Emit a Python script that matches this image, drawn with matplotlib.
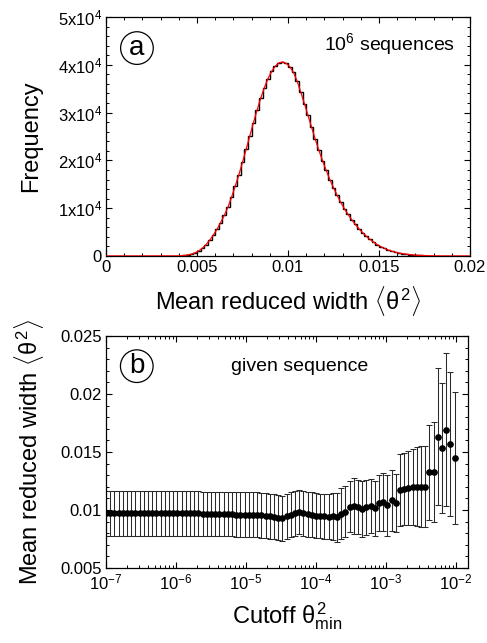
import numpy as np
import matplotlib
matplotlib.use("Agg")
import matplotlib.pyplot as plt
from matplotlib.ticker import MultipleLocator, LogLocator, NullFormatter

plt.rcParams['font.family'] = ['Liberation Sans', 'DejaVu Sans']
plt.rcParams['mathtext.fontset'] = 'custom'
plt.rcParams['mathtext.rm'] = 'Liberation Sans'
plt.rcParams['mathtext.it'] = 'Liberation Sans'
plt.rcParams['mathtext.bf'] = 'Liberation Sans:bold'

# ---------------- Panel (a): histogram of mean reduced width ----------------
hist_start = 0.0038
bin_width = 0.0002
hist_counts = [20, 50, 110, 220, 400, 680, 1080, 1650, 2400, 3300,
               4400, 5600, 7000, 8500, 10200, 12300, 14600, 17000, 19600, 22300,
               25100, 27900, 30500, 33000, 35200, 37100, 38600, 39700, 40400, 40600,
               40300, 39600, 38400, 36600, 34300, 31900, 29400, 26900, 24400, 22100,
               19900, 17900, 16000, 14300, 12700, 11200, 9900, 8700, 7600, 6600,
               5700, 4900, 4150, 3500, 2900, 2400, 1950, 1580, 1270, 1010,
               800, 630, 490, 380, 290, 220, 165, 120, 90, 65,
               45, 30, 20, 12, 7, 4]
hist_xlim = (0.0, 0.02)
hist_xticks = [0, 0.005, 0.01, 0.015, 0.02]
hist_xticklabels = ['0', '0.005', '0.01', '0.015', '0.02']
hist_yticks = [0, 10000, 20000, 30000, 40000, 50000]
hist_yticklabels = ['0', r'$\mathregular{1x10^4}$', r'$\mathregular{2x10^4}$',
                    r'$\mathregular{3x10^4}$', r'$\mathregular{4x10^4}$', r'$\mathregular{5x10^4}$']

# ---------------- Panel (b): mean reduced width vs cutoff ----------------
cutoff_exp = [-7.00, -6.94, -6.88, -6.82, -6.76, -6.70, -6.64, -6.58, -6.52, -6.46,
              -6.40, -6.34, -6.28, -6.22, -6.16, -6.10, -6.04, -5.98, -5.92, -5.86,
              -5.80, -5.74, -5.68, -5.62, -5.56, -5.50, -5.44, -5.38, -5.32, -5.26,
              -5.20, -5.14, -5.08, -5.02, -4.96, -4.90, -4.84, -4.78, -4.72, -4.66,
              -4.60, -4.54, -4.48, -4.42, -4.36, -4.30, -4.24, -4.18, -4.12, -4.06,
              -4.00, -3.94, -3.88, -3.82, -3.76, -3.70, -3.64, -3.58, -3.52, -3.46,
              -3.40, -3.34, -3.28, -3.22, -3.16, -3.10, -3.04, -2.98, -2.92, -2.86,
              -2.80, -2.74, -2.68, -2.62, -2.56, -2.50, -2.44, -2.38, -2.32, -2.26,
              -2.20, -2.14, -2.08, -2.02]
mean_width = [0.00973, 0.00973, 0.00973, 0.00973, 0.00973, 0.00973, 0.00973, 0.00973, 0.00973, 0.00973,
              0.00973, 0.00973, 0.00973, 0.00970, 0.00970, 0.00970, 0.00970, 0.00970, 0.00970, 0.00970,
              0.00970, 0.00970, 0.00970, 0.00966, 0.00966, 0.00966, 0.00966, 0.00966, 0.00966, 0.00966,
              0.00966, 0.00960, 0.00960, 0.00960, 0.00960, 0.00960, 0.00960, 0.00955, 0.00950, 0.00945,
              0.00942, 0.00935, 0.00930, 0.00945, 0.00958, 0.00970, 0.00982, 0.00972, 0.00962, 0.00958,
              0.00952, 0.00948, 0.00945, 0.00942, 0.00944, 0.00936, 0.00967, 0.00987, 0.01030, 0.01036,
              0.01025, 0.01011, 0.01022, 0.01036, 0.01013, 0.01060, 0.01065, 0.01039, 0.01082, 0.01060,
              0.01174, 0.01183, 0.01191, 0.01197, 0.01200, 0.01200, 0.01200, 0.01327, 0.01327, 0.01633,
              0.01538, 0.01691, 0.01570, 0.01447]
width_err = [0.00193] * 54 + [0.0020, 0.0021, 0.0022, 0.0022, 0.0022, 0.0024, 0.0023, 0.0024, 0.0024, 0.0023,
                              0.0024, 0.0024, 0.0025, 0.0026, 0.0026, 0.0025, 0.0031, 0.0031, 0.0032, 0.0033,
                              0.0034, 0.0035, 0.0035, 0.0041, 0.0043, 0.0059, 0.0056, 0.0066, 0.0062, 0.0057]
cut_xlim = (1e-7, 0.0148)
cut_ylim = (0.005, 0.025)
cut_yticks = [0.005, 0.01, 0.015, 0.02, 0.025]
cut_yticklabels = ['0.005', '0.01', '0.015', '0.02', '0.025']

W, H = 487, 643
fig = plt.figure(figsize=(W / 100, H / 100), dpi=100)

def px_axes(l, t, r, b):
    return fig.add_axes([l / W, 1 - b / H, (r - l) / W, (b - t) / H])

TICK_FS = 12
LABEL_FS = 17

def style_ticks(ax):
    ax.tick_params(which='both', direction='in', top=True, right=True, labelsize=TICK_FS, pad=3)
    ax.tick_params(which='major', length=4.5, width=0.8)
    ax.tick_params(which='minor', length=2.5, width=0.7)
    for s in ax.spines.values():
        s.set_linewidth(0.9)

# ----- panel a -----
ax1 = px_axes(106, 17, 470, 256)
edges = hist_start + bin_width * np.arange(len(hist_counts) + 1)
full_edges = np.concatenate([[hist_xlim[0]], edges, [hist_xlim[1]]])
full_counts = np.concatenate([[0], hist_counts, [0]])
ax1.stairs(full_counts, full_edges, color='black', linewidth=1.0)
centers = edges[:-1] + bin_width / 2
ax1.plot(np.concatenate([[hist_xlim[0]], centers, [hist_xlim[1]]]),
         np.concatenate([[0], hist_counts, [0]]), color='red', linewidth=0.9, zorder=3)
ax1.set_xlim(*hist_xlim)
ax1.set_ylim(0, 50000)
ax1.set_xticks(hist_xticks)
ax1.set_xticklabels(hist_xticklabels)
ax1.set_yticks(hist_yticks)
ax1.set_yticklabels(hist_yticklabels)
ax1.xaxis.set_minor_locator(MultipleLocator(0.001))
ax1.yaxis.set_minor_locator(MultipleLocator(2000))
style_ticks(ax1)
ax1.set_xlabel(r'Mean reduced width $\langle\theta^2\rangle$', fontsize=LABEL_FS, labelpad=6)
ax1.set_ylabel('Frequency', fontsize=LABEL_FS, labelpad=11)
ax1.text(0.085, 0.87, 'a', transform=ax1.transAxes, fontsize=20, ha='center', va='center',
         bbox=dict(boxstyle='circle,pad=0.12', fc='none', ec='black', lw=0.9))
ax1.text(0.96, 0.885, r'$\mathregular{10^6}$ sequences', transform=ax1.transAxes,
         fontsize=14, ha='right', va='center')

# ----- panel b -----
ax2 = px_axes(106, 336, 468, 568)
cutoffs = 10.0 ** np.array(cutoff_exp)
ax2.errorbar(cutoffs, mean_width, yerr=width_err, fmt='o', color='black', markersize=3.8,
             ecolor='#2a2a2a', elinewidth=0.75, capsize=2, capthick=0.75)
ax2.set_xscale('log')
ax2.set_xlim(*cut_xlim)
ax2.set_ylim(*cut_ylim)
ax2.set_yticks(cut_yticks)
ax2.set_yticklabels(cut_yticklabels)
ax2.yaxis.set_minor_locator(MultipleLocator(0.001))
ax2.xaxis.set_major_locator(LogLocator(base=10, numticks=10))
ax2.xaxis.set_minor_locator(LogLocator(base=10, subs=np.arange(2, 10), numticks=20))
ax2.xaxis.set_minor_formatter(NullFormatter())
style_ticks(ax2)
ax2.set_xlabel(r'Cutoff $\theta^2_{\mathrm{min}}$', fontsize=LABEL_FS, labelpad=6)
ax2.set_ylabel(r'Mean reduced width $\langle\theta^2\rangle$', fontsize=LABEL_FS, labelpad=10)
ax2.text(0.085, 0.87, 'b', transform=ax2.transAxes, fontsize=20, ha='center', va='center',
         bbox=dict(boxstyle='circle,pad=0.12', fc='none', ec='black', lw=0.9))
ax2.text(0.535, 0.87, 'given sequence', transform=ax2.transAxes, fontsize=14,
         ha='center', va='center')

fig.savefig('out.png', dpi=100)
